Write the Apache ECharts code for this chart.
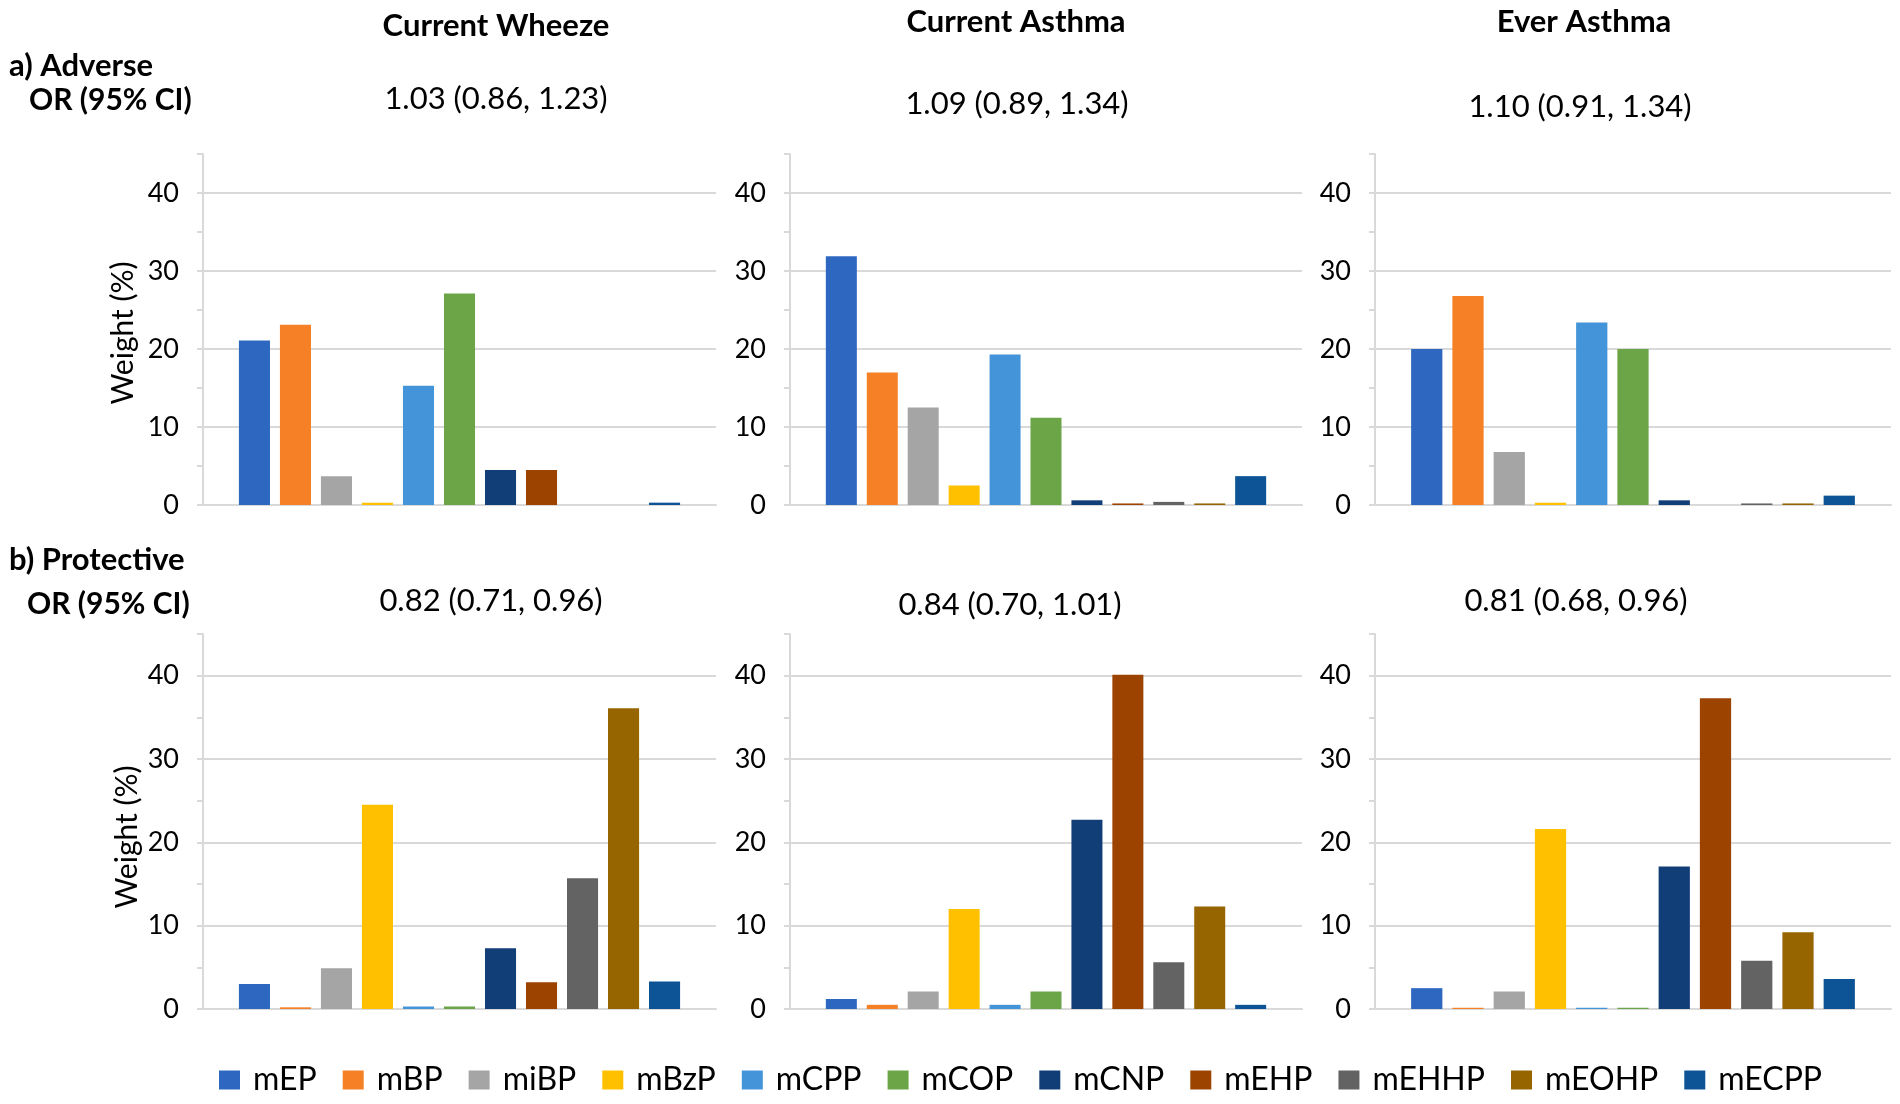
<!DOCTYPE html>
<html>
<head>
<meta charset="utf-8">
<script src="https://cdn.jsdelivr.net/npm/echarts@6/dist/echarts.min.js"></script>
<style>
html,body{margin:0;padding:0;background:#fff;}
#chart{width:1900px;height:1104px;}
</style>
</head>
<body>
<div id="chart"></div>
<script>
// ---- Data ----
const compounds = ['mEP','mBP','miBP','mBzP','mCPP','mCOP','mCNP','mEHP','mEHHP','mEOHP','mECPP'];
const compoundColors = ['#2e67c0','#f58025','#a5a5a5','#ffc000','#4394d8','#6ba547','#123e78','#9c4300','#636363','#976500','#0c5496'];

const outcomes = ['Current Wheeze','Current Asthma','Ever Asthma'];
const adverseOR = ['1.03 (0.86, 1.23)','1.09 (0.89, 1.34)','1.10 (0.91, 1.34)'];
const protectiveOR = ['0.82 (0.71, 0.96)','0.84 (0.70, 1.01)','0.81 (0.68, 0.96)'];

const wheezeAdverse         = [21.1, 23.1, 3.7, 0.3, 15.3, 27.1, 4.5, 4.5, 0, 0, 0.3];
const currentAsthmaAdverse  = [31.9, 17.0, 12.5, 2.5, 19.3, 11.2, 0.6, 0.2, 0.4, 0.2, 3.7];
const everAsthmaAdverse     = [20.0, 26.8, 6.8, 0.3, 23.4, 20.0, 0.6, 0, 0.2, 0.2, 1.2];
const wheezeProtective        = [3.0, 0.2, 4.9, 24.5, 0.3, 0.3, 7.3, 3.2, 15.7, 36.1, 3.3];
const currentAsthmaProtective = [1.2, 0.5, 2.1, 12.0, 0.5, 2.1, 22.7, 40.1, 5.6, 12.3, 0.5];
const everAsthmaProtective    = [2.5, 0.15, 2.1, 21.6, 0.15, 0.15, 17.1, 37.3, 5.8, 9.2, 3.6];

const yTickMax = 45;
const yTickStep = 5;

// ---- Layout ----
const panels = [wheezeAdverse, currentAsthmaAdverse, everAsthmaAdverse,
                wheezeProtective, currentAsthmaProtective, everAsthmaProtective];
const colLeft = [203, 790, 1375];
const colWidth = [513, 512, 516];
const rowTop = [154, 634];
const rowHeight = [351, 375];
const FONT = 'Lato';

const grids = [], xAxes = [], yAxes = [], series = [];
panels.forEach((vals, p) => {
  const r = Math.floor(p / 3), c = p % 3;
  grids.push({left: colLeft[c], top: rowTop[r], width: colWidth[c], height: rowHeight[r], containLabel: false});
  xAxes.push({
    type: 'category', gridIndex: p, data: [''],
    axisLine: {show: true, lineStyle: {color: '#d9d9d9', width: 2}},
    axisTick: {show: false}, axisLabel: {show: false}, splitLine: {show: false}
  });
  yAxes.push({
    type: 'value', gridIndex: p, min: 0, max: yTickMax, interval: yTickStep,
    axisLine: {show: true, lineStyle: {color: '#d9d9d9', width: 2}},
    axisTick: {show: true, inside: false, length: 6, lineStyle: {color: '#d9d9d9', width: 2}},
    axisLabel: {
      show: true, margin: 24, color: '#000', fontFamily: FONT, fontSize: 27,
      formatter: v => (v % 10 === 0 ? String(v) : '')
    },
    splitLine: {show: true, lineStyle: {color: ['#d9d9d9', 'rgba(0,0,0,0)'], width: 2}}
  });
  compounds.forEach((name, i) => {
    series.push({
      type: 'bar', name: name, xAxisIndex: p, yAxisIndex: p,
      data: [vals[i]],
      barGap: '32%', barCategoryGap: '14%',
      itemStyle: {color: compoundColors[i]},
      emphasis: {disabled: true},
      animation: false
    });
  });
});

function txt(x, y, text, size, bold, align, rot) {
  return {
    type: 'text', x: x, y: y, rotation: rot || 0, z: 100,
    style: {
      text: text, fill: '#000',
      font: (bold ? 'bold ' : '') + size + 'px ' + FONT,
      textAlign: align || 'center', textVerticalAlign: 'middle',
      align: align || 'center', verticalAlign: 'middle'
    }
  };
}

const graphics = [
  txt(496, 26, outcomes[0], 31, true),
  txt(1016, 22, outcomes[1], 31, true),
  txt(1584, 22, outcomes[2], 31, true),
  txt(9, 66, 'a) Adverse', 31, true, 'left'),
  txt(29, 100, 'OR (95% CI)', 30, true, 'left'),
  txt(9, 560, 'b) Protective', 31, true, 'left'),
  txt(27, 604, 'OR (95% CI)', 30, true, 'left'),
  txt(496, 99, adverseOR[0], 31, false),
  txt(1017, 104, adverseOR[1], 31, false),
  txt(1580, 107, adverseOR[2], 31, false),
  txt(491, 601, protectiveOR[0], 31, false),
  txt(1010, 605, protectiveOR[1], 31, false),
  txt(1576, 601, protectiveOR[2], 31, false),
  txt(123, 333, 'Weight (%)', 30, false, 'center', Math.PI / 2),
  txt(127, 837, 'Weight (%)', 30, false, 'center', Math.PI / 2)
];

const chart = echarts.init(document.getElementById('chart'), null, {renderer: 'canvas'});
chart.setOption({
  animation: false,
  backgroundColor: '#ffffff',
  grid: grids,
  xAxis: xAxes,
  yAxis: yAxes,
  series: series,
  legend: {
    data: compounds,
    left: 214, top: 1059,
    orient: 'horizontal',
    icon: 'rect', itemWidth: 21, itemHeight: 19, itemGap: 26,
    textStyle: {fontFamily: FONT, fontSize: 32, color: '#000', padding: [0, 0, 0, 8]},
    selectedMode: false
  },
  graphic: graphics
});
</script>
</body>
</html>
